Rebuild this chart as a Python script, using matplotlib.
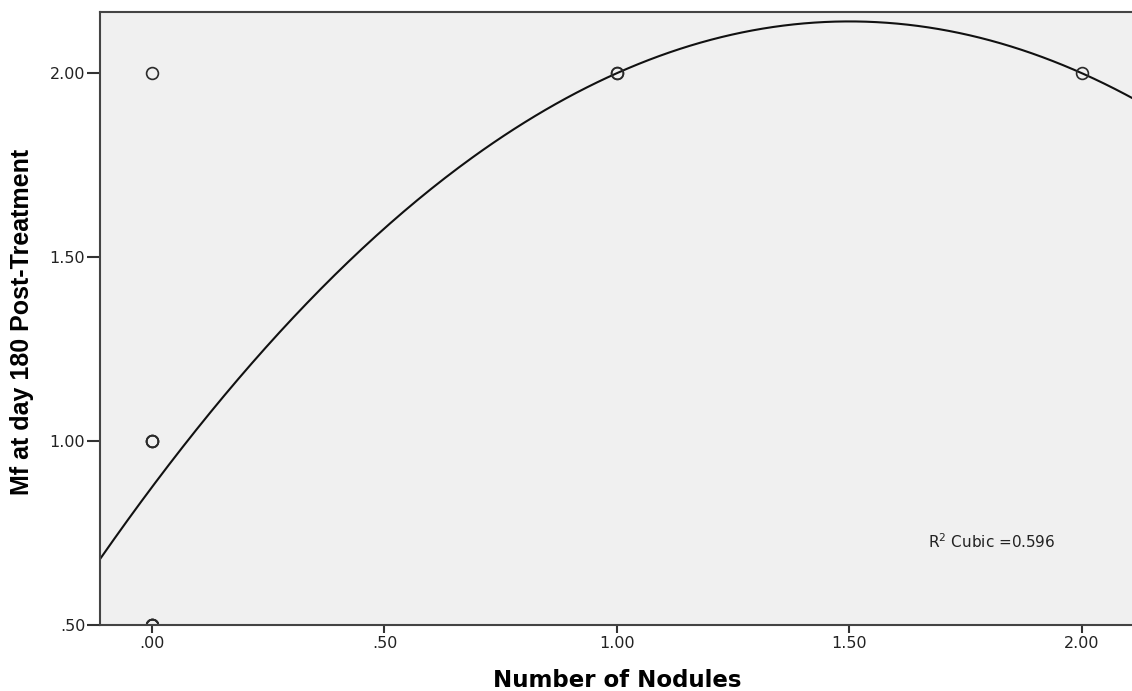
import numpy as np
import matplotlib
matplotlib.use('Agg')
import matplotlib.pyplot as plt
from matplotlib import font_manager

plt.rcParams['font.family'] = 'DejaVu Sans'

# data (overlapping cases at x=0 repeated)
nodules = [0, 0, 0, 0, 0, 0, 0, 0, 1, 1, 2]
mf_day180 = [2.0, 1.0, 1.0, 1.0, 0.5, 0.5, 0.5, 0.5, 2.0, 2.0, 2.0]

x_ticks = [0.0, 0.5, 1.0, 1.5, 2.0]
x_labels = ['.00', '.50', '1.00', '1.50', '2.00']
y_ticks = [0.5, 1.0, 1.5, 2.0]
y_labels = ['.50', '1.00', '1.50', '2.00']
r2_text = 'R$^2$ Cubic =0.596'

x = np.array(nodules, dtype=float)
y = np.array(mf_day180)

# fit line (only 3 distinct x values, so the cubic reduces to a quadratic)
coef = np.polyfit(x, y, 2)

# narrow bold font for the y label if there is one
ylab_font = 'Liberation Sans'
for f in ['Liberation Sans Narrow', 'DejaVu Sans Condensed']:
    try:
        font_manager.findfont(f, fallback_to_default=False)
        ylab_font = f
        break
    except Exception:
        pass

fig = plt.figure(figsize=(11.32, 6.91), dpi=100)
ax = fig.add_axes([0.0883, 0.0955, 0.9117, 0.887])
ax.set_facecolor('#f0f0f0')

ax.set_xlim(-0.112, 2.108)
ax.set_ylim(0.5, 2.166)

xx = np.linspace(-0.112, 2.108, 300)
ax.plot(xx, np.polyval(coef, xx), color='#111111', lw=1.5)

ax.plot(x, y, 'o', mfc='none', mec='#2a2a2a', ms=8.5, mew=1.2)

ax.set_xticks(x_ticks)
ax.set_xticklabels(x_labels)
ax.set_yticks(y_ticks)
ax.set_yticklabels(y_labels)
ax.tick_params(direction='out', width=1.5, color='#333333',
               labelsize=11.5, labelcolor='#222222')
ax.tick_params(axis='x', length=6, pad=2)
ax.tick_params(axis='y', length=9.5, pad=1)

for s in ['left', 'bottom', 'top']:
    ax.spines[s].set_color('#444444')
    ax.spines[s].set_linewidth(1.5)
ax.spines['right'].set_visible(False)

ax.set_xlabel('Number of Nodules', fontsize=16.5, fontweight='bold')
ax.xaxis.set_label_coords(0.501, -0.072)
ax.set_ylabel('Mf at day 180 Post-Treatment', fontsize=18, fontweight='bold',
              family=ylab_font)
ax.yaxis.set_label_coords(-0.064, 0.494)

ax.text(1.669, 0.726, r2_text, fontsize=11, color='#222222', va='center')

fig.savefig('out.png', dpi=100)
